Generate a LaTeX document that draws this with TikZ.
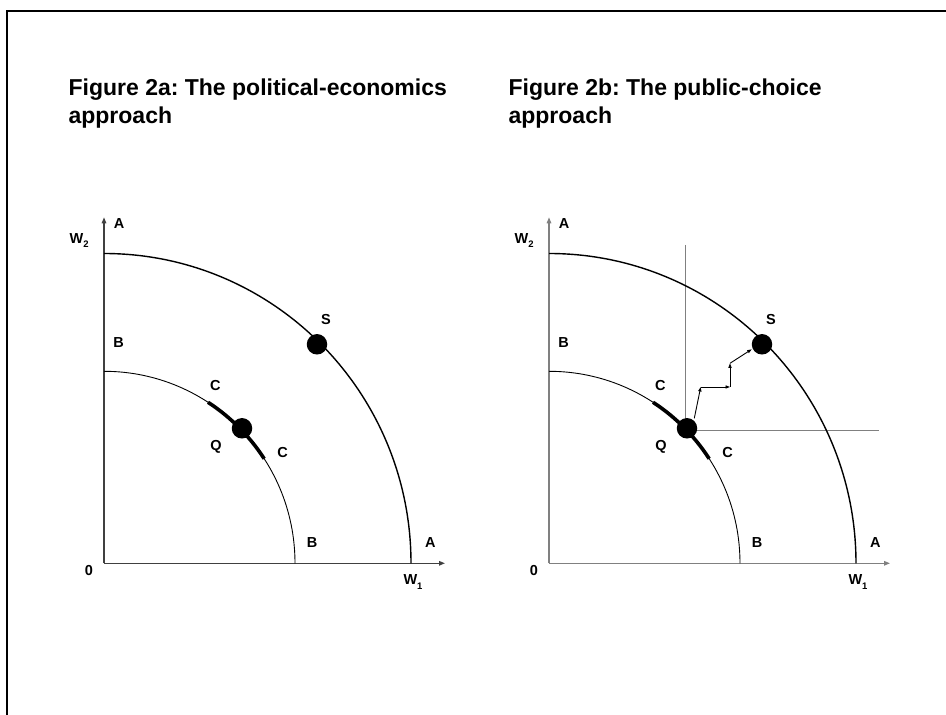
\documentclass[tikz,border=0pt]{standalone}
\usepackage{fontspec}
\setmainfont{Liberation Sans}
\usetikzlibrary{arrows.meta,calc}
\newcommand\labfont{\fontsize{14.5}{16}\selectfont\bfseries}
\newcommand\titfont{\fontsize{23}{27}\selectfont\bfseries}
\newcommand\subfont{\fontsize{9.5}{10}\selectfont\bfseries}
\definecolor{axL}{HTML}{404040}
\definecolor{axR}{HTML}{808080}
\frenchspacing
\begin{document}
\begin{tikzpicture}[x=1pt,y=1pt,
  lab/.style={font=\labfont, inner sep=0pt, anchor=base},
  wlab/.style={font=\labfont, inner sep=0pt, anchor=base west},
  titl/.style={font=\titfont, inner sep=0pt, anchor=base west},
  axisline/.style={line width=1.3pt, -{Triangle[length=6pt,width=4.5pt]}},
  outerarc/.style={line width=1.4pt},
  innerarc/.style={line width=0.9pt},
  cseg/.style={line width=3.6pt},
  dotnode/.style={circle, fill=black, minimum size=20.5pt, inner sep=0pt},
  guide/.style={draw=axR, line width=1.4pt},
  stparrow/.style={line width=0.9pt, -{Triangle[length=4.5pt,width=3.2pt]}},
  framestyle/.style={line width=2pt},
  pics/panel/.style={code={
    \coordinate (-o) at (0,0);
    \coordinate (-ytip) at (0,346);
    \coordinate (-xtip) at (341,0);
    \draw[axisline, draw=#1] (-o) -- (-ytip);
    \draw[axisline, draw=#1] (-o) -- (-xtip);
    \draw[outerarc] (0,309.8) arc[start angle=90, end angle=0, x radius=307, y radius=309.8];
    \draw[innerarc] (0,192) arc[start angle=90, end angle=0, x radius=191, y radius=192];
    \draw[cseg] (57:191 and 192) arc[start angle=57, end angle=33, x radius=191, y radius=192];
    \node[dotnode] (-q) at (138,135) {};
    \node[dotnode] (-s) at (213,219) {};
    \node[lab] (-atop) at (15,334.8) {A};
    \node[wlab] (-w2) at (-34.5,320) {W\raisebox{-4.4pt}{\subfont 2}};
    \node[lab] (-slab) at (222,238.3) {S};
    \node[lab] (-bleft) at (14.7,215.6) {B};
    \node[lab] (-cup) at (111.3,172.3) {C};
    \node[lab] (-qlab) at (112,112.3) {Q};
    \node[lab] (-clow) at (178.5,105.6) {C};
    \node[lab] (-bbot) at (208,15.6) {B};
    \node[lab] (-aright) at (326.3,15.6) {A};
    \node[lab] (-zero) at (-15.2,-12.7) {0};
    \node[wlab] (-w1) at (299.3,-21.7) {W\raisebox{-4.4pt}{\subfont 1}};
  }}
]
\useasboundingbox (0,0) rectangle (946,715);
\draw[framestyle] (7,-5) coordinate (fb) -- (7,704) coordinate (fc) -- (946,704) coordinate (fr);

\node[titl] (t1a) at (68.4,619) {Figure 2a: The political-economics};
\node[titl] (t1b) at (68.4,591) {approach};
\node[titl] (t2a) at (508.4,619) {Figure 2b: The public-choice};
\node[titl] (t2b) at (508.4,591) {approach};

\pic (L) at (104,151.7) {panel=axL};

\begin{scope}[shift={(549,151.7)}]
  \coordinate (vtop) at (136.7,318.3);
  \coordinate (vbot) at (136.7,135);
  \coordinate (hleft) at (138.3,132.6);
  \coordinate (hright) at (330,132.6);
  \draw[guide] (vtop) -- (vbot);
  \draw[guide] (hleft) -- (hright);
\end{scope}

\pic (R) at (549,151.7) {panel=axR};

\begin{scope}[shift={(549,151.7)}]
  \coordinate (p0) at (145.3,145);
  \coordinate (p1) at (151.7,176.3);
  \coordinate (p2) at (181,176.3);
  \coordinate (p3) at (181,200);
  \coordinate (p4) at (202.7,214);
  \draw[stparrow] (p0) -- (p1);
  \draw[stparrow] (p1) -- (p2);
  \draw[stparrow] (p2) -- (p3);
  \draw[stparrow] (p3) -- (p4);
\end{scope}
\end{tikzpicture}
\end{document}
